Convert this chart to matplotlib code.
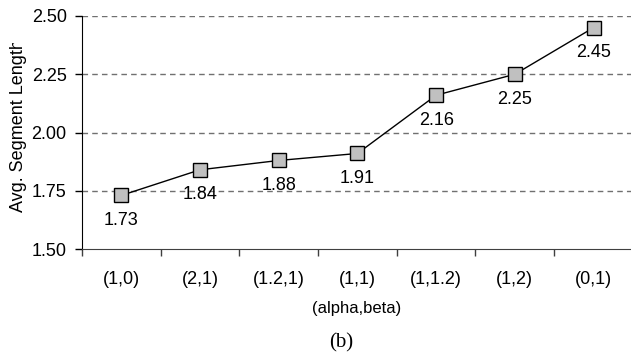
import numpy as np
import matplotlib
matplotlib.use("Agg")
import matplotlib.pyplot as plt
from matplotlib.transforms import Bbox, TransformedBbox

categories = ["(1,0)", "(2,1)", "(1.2,1)", "(1,1)", "(1,1.2)", "(1,2)", "(0,1)"]
values = [1.73, 1.84, 1.88, 1.91, 2.16, 2.25, 2.45]
yticks = [1.50, 1.75, 2.00, 2.25, 2.50]

plt.rcParams["font.family"] = ["Liberation Sans", "DejaVu Sans"]

W, H = 631, 353
fig = plt.figure(figsize=(W / 100, H / 100), dpi=100)
ax = fig.add_axes([82 / W, 1 - 249 / H, 1.003 - 82 / W, (249 - 16) / H])

x = np.arange(len(categories))
for yv in yticks[1:]:
    ax.axhline(yv, color="#707070", lw=1, ls=(0, (4, 3)), zorder=1)

ax.plot(x, values, color="black", lw=1, marker="s", ms=9.5,
        mfc="#c0c0c0", mec="black", mew=1, zorder=3)
for xi, v in zip(x, values):
    ax.annotate(f"{v:.2f}", (xi, v), xytext=(0, -18), textcoords="offset points",
                ha="center", va="center", fontsize=13)

ax.set_xlim(-0.5, len(categories) - 0.5)
ax.set_ylim(1.5, 2.5)
ax.set_yticks(yticks)
ax.set_yticklabels([f"{t:.2f}" for t in yticks], fontsize=13)
ax.set_xticks(x)
ax.set_xticklabels(categories, fontsize=13)
ax.set_xticks(np.arange(len(categories) + 1) - 0.5, minor=True)
ax.tick_params(axis="x", which="major", length=0, pad=16)
ax.tick_params(axis="x", which="minor", length=5, width=1, color="#404040", direction="out")
ax.tick_params(axis="y", length=5, width=1, pad=6, direction="out")

for s in ("top", "right"):
    ax.spines[s].set_visible(False)
ax.spines["left"].set_color("black")
ax.spines["bottom"].set_color("#404040")

ylab = fig.text(19 / W, 1 - 212 / H, "Avg. Segment Length", rotation=90,
                ha="center", va="bottom", fontsize=13)
ylab.set_clip_box(TransformedBbox(Bbox([[0, 0], [1, 1 - 43 / H]]), fig.transFigure))
ylab.set_clip_on(True)

fig.text(357 / W, 1 - 309 / H, "(alpha,beta)", ha="center", va="center", fontsize=12)
fig.text(341 / W, 1 - 343 / H, "(b)", ha="center", va="center", fontsize=15,
         family="Liberation Serif")

fig.savefig("out.png", dpi=100)
